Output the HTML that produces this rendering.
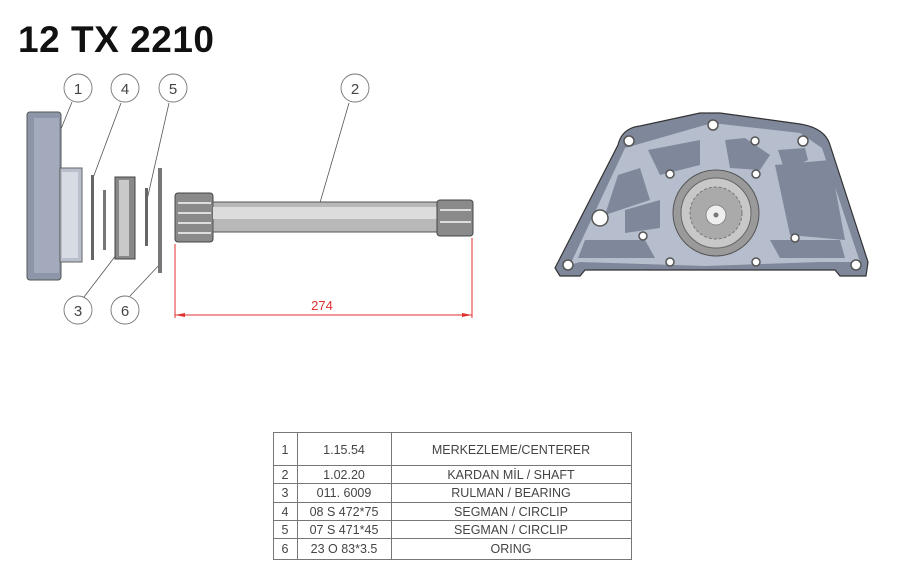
<!DOCTYPE html>
<html><head><meta charset="utf-8"><style>
html,body{margin:0;padding:0;background:#fff;}
svg{display:block;}
</style></head><body>
<svg width="900" height="566" viewBox="0 0 900 566" xmlns="http://www.w3.org/2000/svg" font-family="Liberation Sans, sans-serif">
<text x="18" y="52" font-size="37" font-weight="bold" fill="#111" textLength="196">12 TX 2210</text>

<!-- leaders -->
<g stroke="#555" stroke-width="0.8" fill="none">
<line x1="72" y1="102" x2="45" y2="168"/>
<line x1="121" y1="103" x2="93" y2="178"/>
<line x1="169" y1="103" x2="147" y2="200"/>
<line x1="349" y1="103" x2="317" y2="213"/>
<line x1="84" y1="297" x2="120" y2="250"/>
<line x1="130" y1="296" x2="162" y2="262"/>
</g>
<g fill="#fff" stroke="#777" stroke-width="0.9">
<circle cx="78" cy="88" r="14"/><circle cx="125" cy="88" r="14"/><circle cx="173" cy="88" r="14"/>
<circle cx="355" cy="88" r="14"/><circle cx="78" cy="310" r="14"/><circle cx="125" cy="310" r="14"/>
</g>
<g font-size="15" fill="#444" text-anchor="middle">
<text x="78" y="94">1</text><text x="125" y="94">4</text><text x="173" y="94">5</text>
<text x="355" y="94">2</text><text x="78" y="316">3</text><text x="125" y="316">6</text>
</g>

<!-- part 1 -->
<rect x="27" y="112" width="34" height="168" rx="3" fill="#8d95a8" stroke="#555"/>
<rect x="34" y="118" width="25" height="155" fill="#a3aabb"/>
<rect x="60" y="168" width="22" height="94" fill="#b9bfcc" stroke="#666"/>
<rect x="62" y="172" width="16" height="86" fill="#d7dbe3"/>
<!-- rings -->
<rect x="91" y="175" width="3" height="85" fill="#666"/>
<rect x="103" y="190" width="3" height="60" fill="#777"/>
<rect x="115" y="177" width="20" height="82" fill="#888" stroke="#444"/>
<rect x="119" y="180" width="10" height="76" fill="#c9c9c9"/>
<rect x="145" y="188" width="3" height="58" fill="#666"/>
<rect x="158" y="168" width="4" height="105" fill="#777"/>

<!-- shaft -->
<rect x="175" y="193" width="38" height="49" rx="3" fill="#8a8a8a" stroke="#444"/>
<g stroke="#ddd" stroke-width="2"><line x1="178" y1="203" x2="211" y2="203"/><line x1="178" y1="213" x2="211" y2="213"/><line x1="178" y1="223" x2="211" y2="223"/><line x1="178" y1="233" x2="211" y2="233"/></g>
<rect x="213" y="202" width="224" height="30" fill="#b8b8b8" stroke="#555"/>
<rect x="213" y="207" width="224" height="12" fill="#dcdcdc"/>
<rect x="437" y="200" width="36" height="36" rx="3" fill="#8a8a8a" stroke="#444"/>
<g stroke="#ddd" stroke-width="2"><line x1="440" y1="210" x2="471" y2="210"/><line x1="440" y1="222" x2="471" y2="222"/></g>

<!-- dimension -->
<g stroke="#e03030" stroke-width="1" fill="none">
<line x1="175" y1="244" x2="175" y2="318"/><line x1="472" y1="238" x2="472" y2="318"/>
<line x1="175" y1="315" x2="472" y2="315"/>
</g>
<polygon points="175,315 185,313 185,317" fill="#e03030"/><polygon points="472,315 462,313 462,317" fill="#e03030"/>
<text x="322" y="310" font-size="13" fill="#e03030" text-anchor="middle">274</text>

<!-- plate -->
<path d="M560,276 L555,268 L618,145 Q622,128 640,126 L700,113 L720,113 L800,124 Q825,128 830,145 L868,262 L866,276 L840,276 L835,270 L585,270 L580,276 Z" fill="#7f889b" stroke="#333" stroke-width="1.2"/>
<path d="M570,265 L625,148 L712,123 L800,133 L822,148 L860,262 L820,262 L705,266 L580,262 Z" fill="#b6bdcc"/>
<g fill="#7f889b">
<path d="M648,150 L700,140 L700,165 L660,175 Z"/>
<path d="M725,140 L745,138 L770,155 L760,170 L730,168 Z"/>
<path d="M778,150 L805,148 L808,160 L785,172 Z"/>
<path d="M618,175 L640,168 L650,200 L605,215 Z"/>
<path d="M775,165 L830,160 L845,240 L790,235 Z"/>
<path d="M585,240 L645,240 L655,258 L578,258 Z"/>
<path d="M625,210 L660,200 L660,228 L625,233 Z"/>
<path d="M770,240 L840,240 L845,258 L780,258 Z"/>
</g>
<circle cx="716" cy="213" r="47" fill="#b6bdcc"/>
<circle cx="716" cy="213" r="43" fill="#9a9a9a" stroke="#555"/>
<circle cx="716" cy="213" r="35" fill="#c8c8c8" stroke="#666"/>
<circle cx="716" cy="213" r="26" fill="#aaa" stroke="#777" stroke-dasharray="3 2"/>
<circle cx="716" cy="215" r="10" fill="#eee" stroke="#888"/>
<circle cx="716" cy="215" r="2.5" fill="#777"/>
<g fill="#fff" stroke="#555" stroke-width="1.5">
<circle cx="713" cy="125" r="5"/><circle cx="629" cy="141" r="5"/><circle cx="803" cy="141" r="5"/>
<circle cx="755" cy="141" r="4"/><circle cx="670" cy="174" r="4"/><circle cx="756" cy="174" r="4"/>
<circle cx="643" cy="236" r="4"/><circle cx="795" cy="238" r="4"/><circle cx="670" cy="262" r="4"/>
<circle cx="756" cy="262" r="4"/><circle cx="568" cy="265" r="5"/><circle cx="856" cy="265" r="5"/>
<circle cx="600" cy="218" r="8"/>
</g>

<!-- table -->
<g stroke="#777" stroke-width="1" fill="none">
<rect x="273.5" y="432.5" width="358" height="127"/>
<line x1="297.5" y1="432" x2="297.5" y2="560"/><line x1="391.5" y1="432" x2="391.5" y2="560"/>
<line x1="273" y1="465.5" x2="632" y2="465.5"/><line x1="273" y1="483.5" x2="632" y2="483.5"/>
<line x1="273" y1="502.5" x2="632" y2="502.5"/><line x1="273" y1="520.5" x2="632" y2="520.5"/>
<line x1="273" y1="538.5" x2="632" y2="538.5"/>
</g>
<g font-size="12.5" fill="#444" text-anchor="middle">
<text x="285" y="454">1</text><text x="344" y="454">1.15.54</text><text x="511" y="454">MERKEZLEME/CENTERER</text>
<text x="285" y="479">2</text><text x="344" y="479">1.02.20</text><text x="511" y="479">KARDAN MİL / SHAFT</text>
<text x="285" y="497">3</text><text x="344" y="497">011. 6009</text><text x="511" y="497">RULMAN / BEARING</text>
<text x="285" y="516">4</text><text x="344" y="516">08 S 472*75</text><text x="511" y="516">SEGMAN / CIRCLIP</text>
<text x="285" y="534">5</text><text x="344" y="534">07 S 471*45</text><text x="511" y="534">SEGMAN / CIRCLIP</text>
<text x="285" y="553">6</text><text x="344" y="553">23 O 83*3.5</text><text x="511" y="553">ORING</text>
</g>
</svg>
</body></html>
